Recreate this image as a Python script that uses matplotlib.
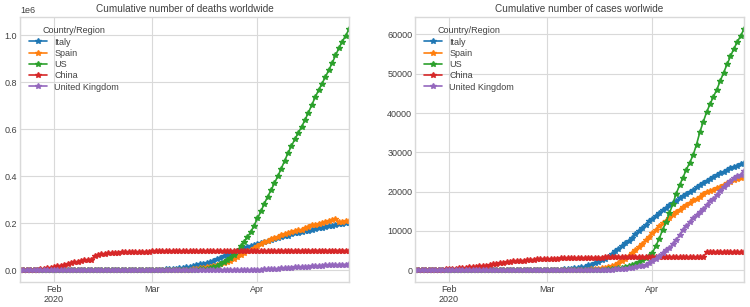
import matplotlib
matplotlib.use("Agg")
import matplotlib.pyplot as plt
import pandas as pd

# ---------------- data ----------------
dates = pd.date_range("2020-01-22", "2020-04-28", freq="D")
countries = ["Italy", "Spain", "US", "China", "United Kingdom"]

# left panel (values up to ~1e6)
italy_left = ([0, 0, 0, 0, 0, 0, 0, 0, 0, 2] +
              [2, 2, 2, 2, 2] + [3] * 15 + [20, 62, 155, 229, 322, 453, 655, 888, 1128] +
              [1694, 2036, 2502, 3089, 3858, 4636, 5883, 7375, 9172, 10149, 12462, 12462, 17660,
               21157, 24747, 27980, 31506, 35713, 41035, 47021, 53578, 59138, 63927, 69176, 74386,
               80589, 86498, 92472, 97689, 101739, 105792] +
              [110574, 115242, 119827, 124632, 128948, 132547, 135586, 139422, 143626, 147577,
               152271, 156363, 159516, 162488, 165155, 168941, 172434, 175925, 178972, 181228,
               183957, 187327, 189973, 192994, 195351, 197675, 199414, 201505])
spain_left = ([0] * 10 +
              [1] * 8 + [2] * 16 + [6, 13, 15, 32, 45] +
              [84, 120, 165, 222, 259, 400, 500, 673, 1073, 1695, 2277, 2277, 5232, 6391, 7798,
               9942, 11748, 13910, 17963, 20410, 25374, 28768, 35136, 39885, 49515, 57786, 65719,
               73235, 80110, 87956, 95923] +
              [104118, 112065, 119199, 126168, 131646, 136675, 141942, 148220, 153222, 158273,
               163027, 166831, 170099, 172541, 177644, 184948, 190839, 191726, 198674, 200210,
               204178, 208389, 213024, 219764, 202990, 205905, 207634, 209465])
us_left = ([1, 1, 2, 2, 5, 5, 5, 6, 6, 8] +
           [8, 8, 11, 11, 12, 12, 12, 12, 12, 12, 13, 13, 14, 14, 14, 14, 14, 14, 14, 14,
            16, 16, 16, 16, 16, 16, 17, 25, 32] +
           [40, 60, 90, 150, 220, 320, 440, 560, 700, 1000, 1300, 1700, 2400, 2900, 3600, 4900,
            6400, 8400, 13000, 19000, 25000, 33000, 43000, 53000, 65000, 83000, 101000, 121000,
            140000, 162000, 190000] +
           [220000, 250000, 282000, 313000, 340000, 370000, 400000, 432000, 465000, 498000,
            528000, 556000, 583000, 610000, 638000, 670000, 702000, 735000, 765000, 793000,
            821000, 850000, 880000, 913000, 944000, 972000, 998000, 1024000])
china_left = ([548, 643, 920, 1406, 2075, 2877, 5509, 6087, 8141, 9802] +
              [11891, 16630, 19716, 23707, 27440, 30587, 34110, 36814, 39829, 42354, 44386, 44759,
               59895, 66358, 68413, 70513, 72434, 74211, 74619, 75077, 75550, 77001, 77022, 77241,
               77754, 78166, 78600, 78928, 79356] +
              [79932, 80136, 80261, 80386, 80537, 80690, 80770, 80823, 80860, 80887, 80921, 80932,
               80945, 80977, 81003, 81033, 81058, 81102, 81156, 81250, 81305, 81435, 81498, 81591,
               81661, 81782, 81897, 81999, 82122, 82198, 82279] +
              [82361, 82432, 82511, 82543, 82602, 82665, 82718, 82809, 82883, 82941, 83014, 83134,
               83213, 83306, 83356, 83403, 83760, 83787, 83805, 83817, 83853, 83868, 83884, 83899,
               83909, 83912, 83918, 83940])
uk_left = ([0] * 10 + [0] * 29 +
           [0, 0, 0, 0, 1, 2, 2, 3, 4, 6, 8, 8, 8, 21, 21, 56, 56, 72, 138, 178, 234, 282, 336,
            423, 466, 580, 761, 1000, 1200, 1450, 1800] +
           [2300, 2900, 3600, 4400, 5100, 5700, 6600, 7700, 8900, 10300, 11300, 12200, 13300,
            14100, 14800, 15600, 16600, 17500, 18200, 19200, 20200, 21200, 22000, 22700, 23400,
            23900, 24300, 25200])

# right panel (values up to ~60000)
italy_right = ([0] * 10 + [0] * 20 + [1, 2, 3, 7, 10, 12, 17, 21, 29] +
               [34, 52, 79, 107, 148, 197, 233, 366, 463, 631, 827, 827, 1266, 1441, 1809, 2158,
                2503, 2978, 3405, 4032, 4825, 5476, 6077, 6820, 7503, 8215, 9134, 10023, 10779,
                11591, 12428] +
               [13155, 13915, 14681, 15362, 15887, 16523, 17127, 17669, 18279, 18849, 19468,
                19899, 20465, 21067, 21645, 22170, 22745, 23227, 23660, 24114, 24648, 25085,
                25549, 25969, 26384, 26644, 26977, 27359])
spain_right = ([0] * 10 + [0] * 29 +
               [0, 0, 1, 2, 3, 5, 10, 17, 28, 35, 54, 55, 133, 195, 289, 342, 533, 623, 830, 1043,
                1375, 1772, 2311, 2808, 3647, 4365, 5138, 5982, 6803, 7716, 8464] +
               [9387, 10348, 11198, 11947, 12641, 13341, 14045, 14792, 15447, 16081, 16606, 17209,
                17756, 18056, 18708, 19315, 20002, 20043, 20453, 20852, 21282, 21717, 22157, 22524,
                22902, 23190, 23521, 23822])
us_right = ([0] * 10 + [0] * 28 + [1] +
            [1, 6, 7, 11, 12, 14, 17, 21, 22, 28, 36, 40, 47, 54, 63, 85, 108, 118, 200, 250, 320,
             450, 580, 750, 1000, 1300, 1700, 2200, 2600, 3000, 3700] +
            [4400, 6200, 8000, 10300, 12200, 14500, 16800, 19500, 21600, 23600, 25600, 27400,
             29300, 32000, 35200, 37800, 40300, 42300, 44200, 46000, 48200, 50300, 52400, 54400,
             56400, 58000, 59700, 61300])
china_right = ([17, 18, 26, 42, 56, 82, 131, 133, 171, 213] +
               [259, 361, 425, 490, 562, 632, 717, 804, 904, 1011, 1111, 1116, 1368, 1520, 1662,
                1765, 1863, 2002, 2114, 2236, 2236, 2441, 2443, 2593, 2663, 2715, 2744, 2788, 2835] +
               [2870, 2912, 2943, 2981, 3013, 3070, 3097, 3119, 3136, 3158, 3169, 3176, 3189, 3199,
                3213, 3226, 3237, 3245, 3249, 3253, 3259, 3274, 3274, 3281, 3285, 3291, 3296, 3299,
                3304, 3308, 3309] +
               [3316, 3322, 3326, 3330, 3333, 3335, 3335, 3337, 3339, 3340, 3343, 3343, 3345, 3345,
                3346, 3346, 4636, 4636, 4636, 4636, 4636, 4636, 4636, 4636, 4636, 4637, 4637, 4637])
uk_right = list(uk_left)

left_title = "Cumulative number of deaths worldwide"
right_title = "Cumulative number of cases worlwide"

# ---------------- plot ----------------
plt.style.use("seaborn-v0_8-whitegrid")
plt.rcParams["font.family"] = ["Liberation Sans", "DejaVu Sans"]
plt.rcParams["text.color"] = "0.25"
plt.rcParams["xtick.color"] = "0.25"
plt.rcParams["ytick.color"] = "0.25"

fig = plt.figure(figsize=(7.5, 3.07), dpi=100)
ax1 = fig.add_axes([0.0267, 0.0805, 0.4387, 0.863])
ax2 = fig.add_axes([0.5533, 0.0805, 0.4387, 0.863])

df_left = pd.DataFrame(dict(zip(countries, [italy_left, spain_left, us_left, china_left, uk_left])),
                       index=dates)
df_right = pd.DataFrame(dict(zip(countries, [italy_right, spain_right, us_right, china_right, uk_right])),
                        index=dates)
df_left.columns.name = "Country/Region"
df_right.columns.name = "Country/Region"

for ax, df, title in [(ax1, df_left, left_title), (ax2, df_right, right_title)]:
    df.plot(ax=ax, style="-*", markersize=4.3, linewidth=1.2)
    ax.set_title(title, fontsize=7.2, color="0.25", pad=4)
    ax.set_xlabel("")
    ax.tick_params(axis="both", labelsize=6.5, pad=2)
    for lbl in ax.get_xticklabels(which="both"):
        lbl.set_fontsize(6.5)
    ax.yaxis.get_offset_text().set_fontsize(6.5)
    for s in ax.spines.values():
        s.set_color("0.85")
        s.set_linewidth(1.0)
    ax.grid(color="0.85", linewidth=0.8)
    ax.legend(title="Country/Region", loc="upper left", fontsize=6.5, title_fontsize=6.5,
              frameon=False, handlelength=2.0, labelspacing=0.25, borderaxespad=0.6)

fig.savefig("out.png", dpi=100)
